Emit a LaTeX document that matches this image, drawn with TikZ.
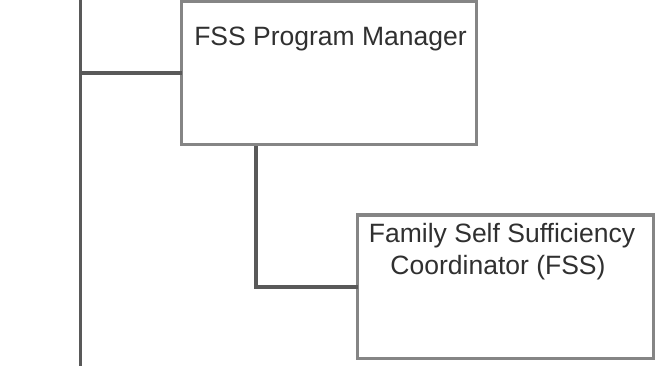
\documentclass[tikz,border=0pt]{standalone}
\usepackage{fontspec}
\setmainfont{Liberation Sans}
\definecolor{connc}{HTML}{595959}
\definecolor{boxc}{HTML}{858585}
\definecolor{txtc}{HTML}{303030}
\begin{document}
\begin{tikzpicture}[x=1pt,y=-1pt,
  box/.style={draw=boxc, line width=3.2pt, fill=white, inner sep=0pt, outer sep=0pt},
  conn/.style={draw=connc, line width=3.8pt},
  txt/.style={text=txtc, font=\fontsize{26.5}{31.7}\selectfont, inner sep=0pt, anchor=base, align=center}]
\useasboundingbox (0,0) rectangle (658,365);
% trunk
\coordinate (ttop) at (80.5,-2);
\coordinate (tbot) at (80.5,367);
\draw[conn] (ttop) -- (tbot);
% boxes
\node[box, minimum width=295pt, minimum height=143.5pt] (pm) at (329.2,72.75) {};
\node[box, minimum width=295.6pt, minimum height=143.3pt] (fc) at (505.5,286.65) {};
% connectors
\draw[conn] (pm.west) -- (pm.west -| ttop);
\coordinate (j) at (256,146);
\draw[conn] (j) |- (fc.west);
% texts
\node[txt] (pmt) at (330.5,45) {FSS Program Manager};
\node[txt] (fct1) at (502,242.7) {Family Self Sufficiency};
\node[txt] (fct2) at (498,274.4) {Coordinator (FSS)};
\end{tikzpicture}
\end{document}
